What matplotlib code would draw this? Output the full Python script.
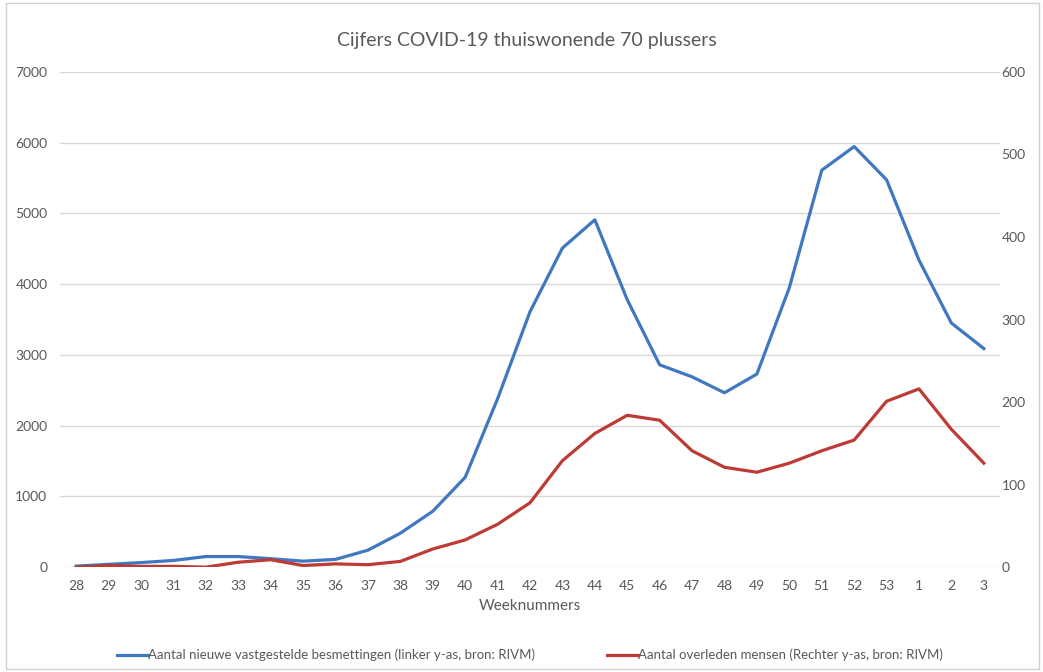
import numpy as np
import matplotlib
matplotlib.use("Agg")
import matplotlib.pyplot as plt
from matplotlib.patches import Rectangle

weeks = ["28", "29", "30", "31", "32", "33", "34", "35", "36", "37", "38", "39", "40",
         "41", "42", "43", "44", "45", "46", "47", "48", "49", "50", "51", "52", "53",
         "1", "2", "3"]
besmettingen = [15, 40, 65, 95, 150, 150, 120, 85, 110, 240, 480, 790, 1270,
                2380, 3610, 4510, 4910, 3780, 2860, 2690, 2465, 2730, 3950,
                5610, 5945, 5475, 4340, 3450, 3090]
overleden = [0, 2, 1, 1, 0, 6, 9, 2, 4, 3, 7, 22, 33,
             52, 78, 129, 162, 184, 178, 141, 121, 115, 126,
             141, 154, 201, 216, 167, 126]

blue = "#3f78c1"
red = "#be3a34"
txt = "#595959"

plt.rcParams["font.family"] = ["Lato", "DejaVu Sans"]

fig = plt.figure(figsize=(10.43, 6.72), dpi=100)
ax = fig.add_axes([0.0575, 0.156, 0.9013, 0.737])
ax2 = ax.twinx()

x = np.arange(len(weeks))
l1, = ax.plot(x, besmettingen, color=blue, lw=2.3,
              label="Aantal nieuwe vastgestelde besmettingen (linker y-as, bron: RIVM)")
l2, = ax2.plot(x, overleden, color=red, lw=2.3,
               label="Aantal overleden mensen (Rechter y-as, bron: RIVM)")

ax.set_xlim(-0.5, len(weeks) - 0.5)
ax.set_ylim(0, 7000)
ax2.set_ylim(0, 600)
ax.set_yticks(range(0, 7001, 1000))
ax2.set_yticks(range(0, 601, 100))
ax.set_xticks(x)
ax.set_xticklabels(weeks)
ax.grid(axis="y", color="#d9d9d9", lw=1)
ax.set_axisbelow(True)

for a in (ax, ax2):
    for s in a.spines.values():
        s.set_visible(False)
    a.tick_params(length=0, colors=txt, labelsize=10)
ax.tick_params(axis="y", pad=9)
ax2.tick_params(axis="y", pad=1)
ax.tick_params(axis="x", pad=9)

ax.set_xlabel("Weeknummers", color=txt, fontsize=11, labelpad=5)
fig.text(0.505, 0.94, "Cijfers COVID-19 thuiswonende 70 plussers",
         ha="center", va="center", color=txt, fontsize=14)

fig.legend(handles=[l1, l2], loc="center", bbox_to_anchor=(0.508, 0.025), ncol=2,
           frameon=False, fontsize=9.5, handlelength=2.3, handletextpad=0.0,
           columnspacing=5.5, labelcolor=txt)

fig.patches.append(Rectangle((0.006, 0.005), 0.99, 0.99, transform=fig.transFigure,
                             fill=False, edgecolor="#d0d0d0", lw=1))

fig.savefig("out.png", dpi=100, facecolor="white")
